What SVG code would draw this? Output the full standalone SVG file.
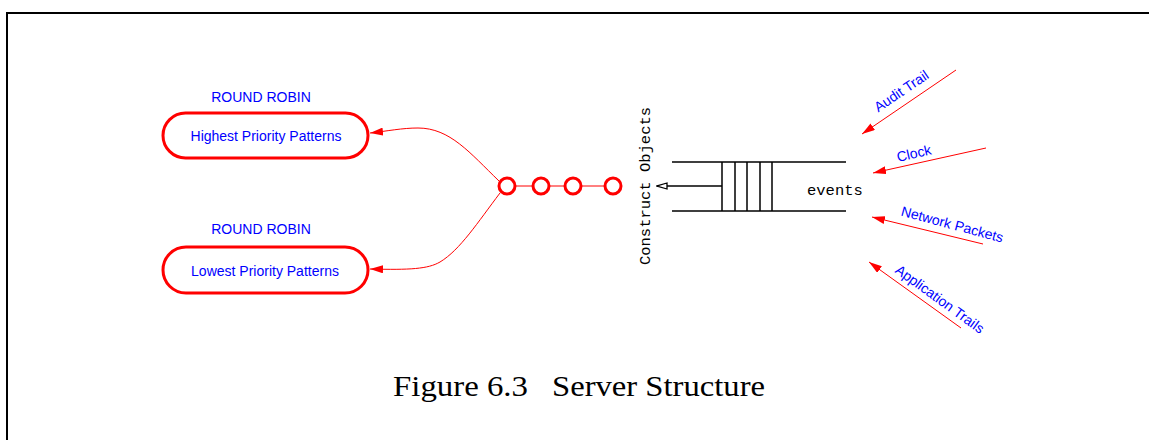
<svg xmlns="http://www.w3.org/2000/svg" width="1149" height="440" viewBox="0 0 1149 440">
<style>
.lbl{font-family:"Liberation Sans",Arial,sans-serif;font-size:14px;fill:#0000ff;text-anchor:middle}
.mono{font-family:"Liberation Mono","Courier New",monospace;font-size:15.5px;fill:#000}
.node{fill:#fff;stroke:#ff0000;stroke-width:3}
.red{fill:none;stroke:#ff0000;stroke-width:1}
.blk{fill:none;stroke:#000;stroke-width:1.5}
.cap{font-family:"Liberation Serif","Times New Roman",serif;font-size:29px;fill:#000}
</style>
<defs>
<marker id="ra" viewBox="0 0 13 8" refX="13" refY="4" markerWidth="13" markerHeight="8" markerUnits="userSpaceOnUse" orient="auto">
<path d="M0,0 L13,4 L0,8 Z" fill="#ff0000"/>
</marker>
<marker id="oa" viewBox="0 0 12 8" refX="11" refY="4" markerWidth="12" markerHeight="8" markerUnits="userSpaceOnUse" orient="auto">
<path d="M1,1 L11,4 L1,7 Z" fill="#fff" stroke="#000" stroke-width="1.3"/>
</marker>
</defs>
<rect width="1149" height="440" fill="#fff"/>
<path d="M7,440 V13 H1149" fill="none" stroke="#000" stroke-width="2"/>

<g id="connectors">
<path class="red" d="M499,181 C470,153 450,128 418,128 C402,128 388,131 370,133" marker-end="url(#ra)"/>
<path class="red" d="M500,193 C478,222 460,250 440,262 C428,269 410,270 370,269" marker-end="url(#ra)"/>
<path class="red" d="M515,186 H533 M549,186 H565 M581,186 H605"/>
<path class="blk" d="M722,186 H657" marker-end="url(#oa)"/>
<path class="red" d="M956,70 L862,134" marker-end="url(#ra)"/>
<path class="red" d="M986,148 L873,173" marker-end="url(#ra)"/>
<path class="red" d="M983,244 L872,217" marker-end="url(#ra)"/>
<path class="red" d="M961,328 L869,262" marker-end="url(#ra)"/>
</g>

<g id="high">
<text class="lbl" x="261" y="102">ROUND ROBIN</text>
<rect class="node" x="163" y="113" width="205" height="45" rx="22.5"/>
<text class="lbl" x="266" y="141">Highest Priority Patterns</text>
</g>
<g id="low">
<text class="lbl" x="261" y="234">ROUND ROBIN</text>
<rect class="node" x="163" y="247" width="205" height="46" rx="23"/>
<text class="lbl" x="265" y="276">Lowest Priority Patterns</text>
</g>

<g id="circles">
<circle class="node" cx="507" cy="186" r="8"/>
<circle class="node" cx="541" cy="186" r="8"/>
<circle class="node" cx="573" cy="186" r="8"/>
<circle class="node" cx="613" cy="186" r="8"/>
</g>

<g id="queue">
<path class="blk" d="M672,162 H846 M672,211 H846 M722,162 V211 M735,162 V211 M747,162 V211 M760,162 V211 M772,162 V211"/>
<text class="mono" x="807" y="195">events</text>
</g>
<text class="mono" transform="translate(650,186) rotate(-90)" text-anchor="middle">Construct Objects</text>

<g id="sources">
<text class="lbl" transform="translate(904,95) rotate(-34)">Audit Trail</text>
<text class="lbl" transform="translate(915,158) rotate(-13)">Clock</text>
<text class="lbl" transform="translate(951,229) rotate(15)">Network Packets</text>
<text class="lbl" transform="translate(937,303) rotate(36)">Application Trails</text>
</g>

<text class="cap" x="393" y="396" textLength="135" lengthAdjust="spacingAndGlyphs">Figure 6.3</text>
<text class="cap" x="552" y="396" textLength="213" lengthAdjust="spacingAndGlyphs">Server Structure</text>
</svg>
